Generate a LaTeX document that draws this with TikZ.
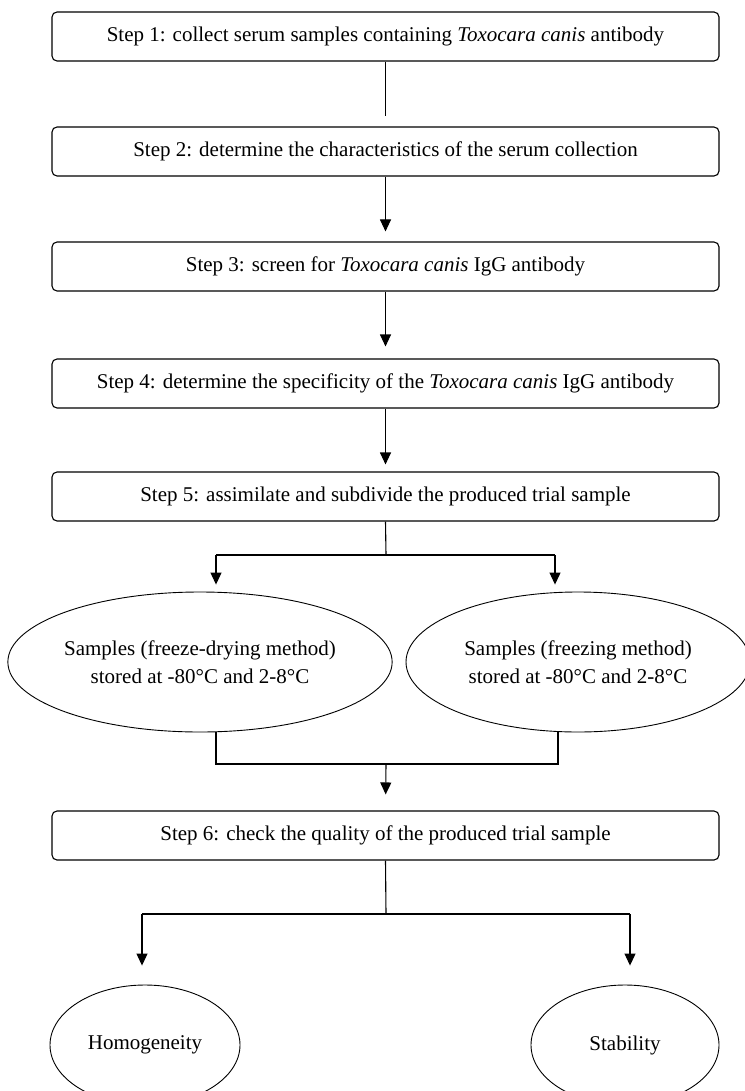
\documentclass[tikz,border=0pt]{standalone}
\usepackage{fontspec}
\setmainfont{Liberation Serif}
\usetikzlibrary{shapes.geometric,arrows.meta}
\begin{document}
\begin{tikzpicture}[x=1pt,y=-1pt,
  every node/.style={font=\fontsize{21}{28}\selectfont},
  stepbox/.style={draw, rounded corners=5pt, minimum width=667pt, minimum height=49pt, inner sep=0pt, line width=1.1pt},
  oval/.style={draw, ellipse, inner sep=0pt, line width=0.9pt, align=center},
  link/.style={line width=1.1pt},
  arr/.style={link, -{Triangle[length=12pt,width=11pt]}}]
\useasboundingbox (0,0) rectangle (744,1091);
\fill[white] (0,0) rectangle (744,1091);

\node[stepbox] (s1) at (385.5,36.5) {Step 1: collect serum samples containing \textit{Toxocara canis} antibody};
\node[stepbox] (s2) at (385.5,151.5) {Step 2: determine the characteristics of the serum collection};
\node[stepbox] (s3) at (385.5,266.5) {Step 3: screen for \textit{Toxocara canis} IgG antibody};
\node[stepbox] (s4) at (385.5,383.5) {Step 4: determine the specificity of the \textit{Toxocara canis} IgG antibody};
\node[stepbox] (s5) at (385.5,496.5) {Step 5: assimilate and subdivide the produced trial sample};

\node[oval, minimum width=382pt, minimum height=140pt] (e1) at (200,662) {Samples (freeze-drying method)\\stored at -80°C and 2-8°C};
\node[oval, minimum width=344pt, minimum height=140pt] (e2) at (578,662) {Samples (freezing method)\\stored at -80°C and 2-8°C};

\node[stepbox] (s6) at (385.5,835.5) {Step 6: check the quality of the produced trial sample};

\node[oval, minimum width=190pt, minimum height=120pt] (h) at (145,1045) {Homogeneity};
\node[oval, minimum width=188pt, minimum height=120pt] (st) at (625,1045) {Stability};

\draw[link, shorten >=10pt] (s1.south) -- (s2.north);
\draw[arr, shorten >=10pt] (s2.south) -- (s3.north);
\draw[arr, shorten >=12pt] (s3.south) -- (s4.north);
\draw[arr, shorten >=7pt] (s4.south) -- (s5.north);

\coordinate (j1) at (386,555);
\coordinate (jl) at (216,555);
\coordinate (jr) at (555,555);
\draw[link] (s5.south) -- (j1);
\draw[link] (jl) -- (jr);
\draw[arr, shorten >=7pt] (jl) -- (jl |- e1.north);
\draw[arr, shorten >=7pt] (jr) -- (jr |- e2.north);

\coordinate (k1) at (386,764);
\coordinate (kl) at (216,764);
\coordinate (kr) at (558,764);
\draw[link] (kl |- e1.south) -- (kl) -- (kr) -- (kr |- e2.south);
\draw[arr, shorten >=16pt] (k1) -- (s6.north);

\coordinate (m1) at (386,914);
\coordinate (ml) at (142,914);
\coordinate (mr) at (630,914);
\draw[link] (s6.south) -- (m1);
\draw[link] (ml) -- (mr);
\draw[arr, shorten >=19pt] (ml) -- (ml |- h.north);
\draw[arr, shorten >=19pt] (mr) -- (mr |- st.north);
\end{tikzpicture}
\end{document}
